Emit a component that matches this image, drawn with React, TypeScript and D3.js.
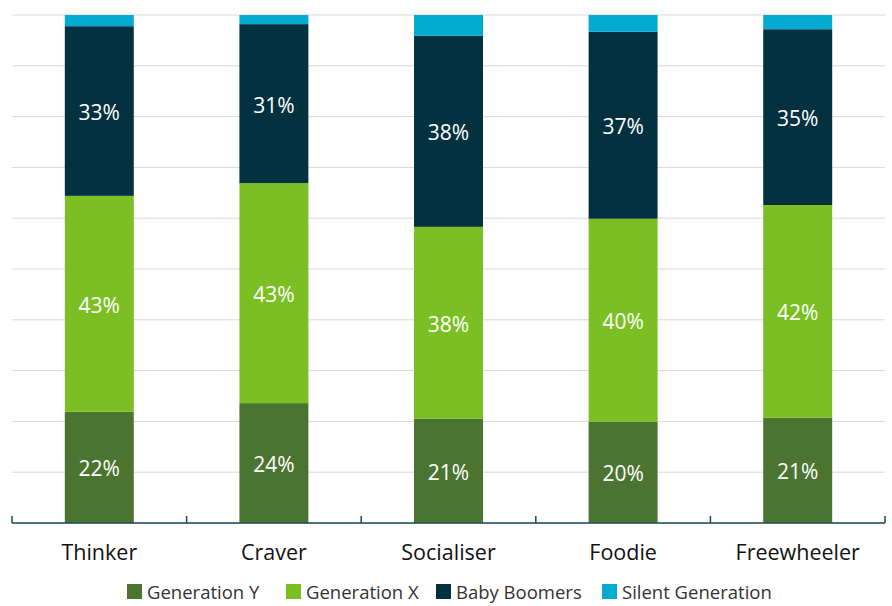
import React from "react";
import * as d3 from "d3";

const categories = ["Thinker", "Craver", "Socialiser", "Foodie", "Freewheeler"];
const seriesNames = ["Generation Y", "Generation X", "Baby Boomers", "Silent Generation"];
const genY = [21.9, 23.6, 20.5, 19.9, 20.7];
const genX = [42.5, 43.3, 37.8, 40.0, 41.9];
const boomers = [33.4, 31.3, 37.6, 36.8, 34.6];
const silent = [2.2, 1.8, 4.1, 3.3, 2.8];
const labelsY = ["22%", "24%", "21%", "20%", "21%"];
const labelsX = ["43%", "43%", "38%", "40%", "42%"];
const labelsB = ["33%", "31%", "38%", "37%", "35%"];
const colors = ["#4b7431", "#7cbf24", "#03313f", "#00aad1"];
const yTicks = [0, 10, 20, 30, 40, 50, 60, 70, 80, 90, 100];

const W = 892, H = 606;
const left = 12, right = 885, top = 15, bottom = 523;
const font = "'Open Sans', 'Noto Sans', sans-serif";

export default function App() {
  const x = d3.scaleBand<string>().domain(categories).range([left, right]).padding(0);
  const y = d3.scaleLinear().domain([0, 100]).range([bottom, top]);
  const rows = categories.map((c, i) => ({ cat: c, s0: genY[i], s1: genX[i], s2: boomers[i], s3: silent[i] }));
  const stack = d3.stack<any>().keys(["s0", "s1", "s2", "s3"]);
  const layers = stack(rows);
  const labels = [labelsY, labelsX, labelsB, null];
  const bw = x.step() * 0.395;
  const legendX = [127, 286, 436, 602];

  return (
    <svg width={W} height={H} style={{ position: "absolute", left: 0, top: 0 }}>
      <rect width={W} height={H} fill="#fff" />
      {yTicks.map((t) => (
        <line key={t} x1={left} x2={right} y1={y(t)} y2={y(t)} stroke="#d9d9d9" strokeWidth={1} />
      ))}
      {layers.map((layer, li) => (
        <g key={li}>
          {layer.map((d, i) => {
            const cx = (x(categories[i]) as number) + x.bandwidth() / 2;
            return (
              <rect key={i} x={cx - bw / 2} y={y(d[1])} width={bw} height={y(d[0]) - y(d[1])} fill={colors[li]} />
            );
          })}
        </g>
      ))}
      {layers.map((layer, li) =>
        labels[li]
          ? layer.map((d, i) => {
              const cx = (x(categories[i]) as number) + x.bandwidth() / 2;
              return (
                <text key={li + "-" + i} x={cx} y={(y(d[0]) + y(d[1])) / 2} dy="0.43em" textAnchor="middle"
                  fill="#fff" fontFamily={font} fontSize={21}>
                  {(labels[li] as string[])[i]}
                </text>
              );
            })
          : null
      )}
      <line x1={left} x2={right} y1={bottom} y2={bottom} stroke="#1b4a5a" strokeWidth={1.5} />
      {d3.range(categories.length + 1).map((k) => {
        const xx = left + k * x.step();
        return <line key={k} x1={xx} x2={xx} y1={bottom} y2={bottom - 7} stroke="#1b4a5a" strokeWidth={1.5} />;
      })}
      {categories.map((c) => (
        <text key={c} x={(x(c) as number) + x.bandwidth() / 2} y={560} textAnchor="middle" fill="#111"
          fontFamily={font} fontSize={21.5}>
          {c}
        </text>
      ))}
      {seriesNames.map((s, i) => (
        <g key={s}>
          <rect x={legendX[i]} y={584} width={15} height={15} fill={colors[i]} />
          <text x={legendX[i] + 20} y={599} fill="#333" fontFamily={font} fontSize={18.5}>
            {s}
          </text>
        </g>
      ))}
    </svg>
  );
}
